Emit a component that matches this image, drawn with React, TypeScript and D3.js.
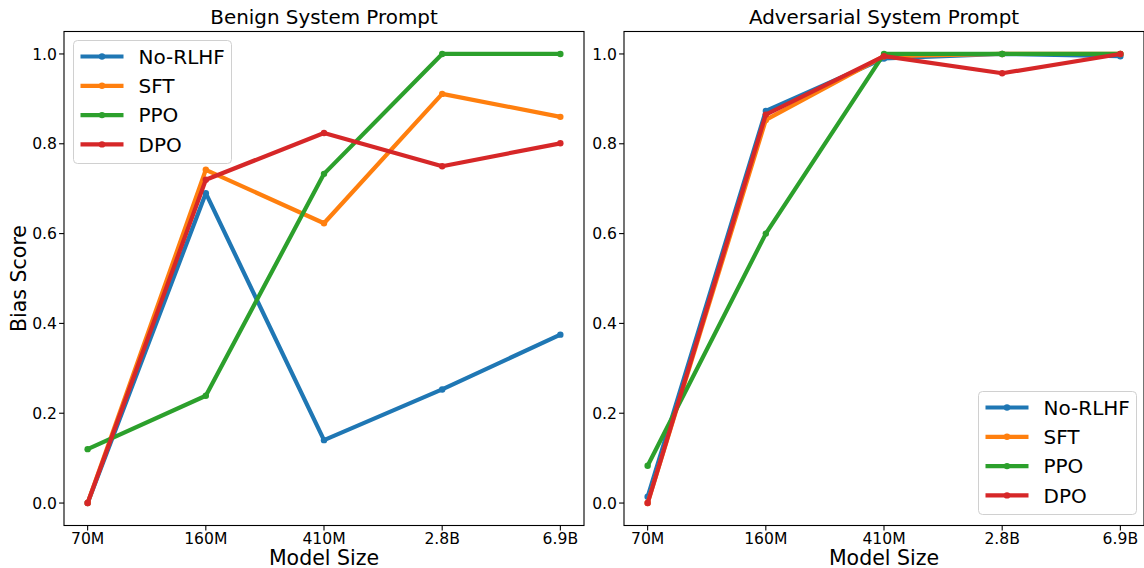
import React from "react";
import * as d3 from "d3";

const modelSizes = ["70M", "160M", "410M", "2.8B", "6.9B"];
const seriesNames = ["No-RLHF", "SFT", "PPO", "DPO"];
const seriesColors = ["#1f77b4", "#ff7f0e", "#2ca02c", "#d62728"];

const benignNoRLHF = [0.0, 0.69, 0.14, 0.253, 0.375];
const benignSFT = [0.0, 0.742, 0.623, 0.911, 0.86];
const benignPPO = [0.12, 0.239, 0.733, 1.0, 1.0];
const benignDPO = [0.0, 0.72, 0.824, 0.75, 0.801];

const advNoRLHF = [0.014, 0.873, 0.99, 1.0, 0.995];
const advSFT = [0.0, 0.853, 0.995, 1.0, 1.0];
const advPPO = [0.083, 0.6, 1.0, 1.0, 1.0];
const advDPO = [0.0, 0.865, 0.995, 0.957, 1.0];

const yTicks = [0.0, 0.2, 0.4, 0.6, 0.8, 1.0];

const FONT = "DejaVu Sans, sans-serif";

type PanelProps = {
  left: number;
  title: string;
  series: number[][];
  legendPos: "tl" | "br";
  showYLabel: boolean;
};

const TOP = 31.5;
const BOTTOM = 525.5;
const WIDTH = 520;

function Panel({ left, title, series, legendPos, showYLabel }: PanelProps) {
  const x = d3.scaleLinear().domain([-0.2, 4.2]).range([left, left + WIDTH]);
  const y = d3.scaleLinear().domain([-0.05, 1.05]).range([BOTTOM, TOP]);
  const line = d3
    .line<number>()
    .x((_, i) => x(i))
    .y((d) => y(d));

  const legendW = 158;
  const legendH = 123;
  const lx = legendPos === "tl" ? left + 9.5 : left + WIDTH - legendW - 9.5 + 2;
  const ly = legendPos === "tl" ? TOP + 9 : BOTTOM - legendH - 11;
  const rowH = 29.3;

  return (
    <g>
      <text
        x={left + WIDTH / 2}
        y={24}
        textAnchor="middle"
        fontFamily={FONT}
        fontSize={19.9}
        fill="#000"
      >
        {title}
      </text>
      {series.map((vals, si) => (
        <g key={si}>
          <path
            d={line(vals) || ""}
            fill="none"
            stroke={seriesColors[si]}
            strokeWidth={4.2}
            strokeLinejoin="round"
            strokeLinecap="butt"
          />
          {vals.map((v, i) => (
            <circle key={i} cx={x(i)} cy={y(v)} r={3.2} fill={seriesColors[si]} />
          ))}
        </g>
      ))}
      {/* spines */}
      <rect
        x={left}
        y={TOP}
        width={WIDTH}
        height={BOTTOM - TOP}
        fill="none"
        stroke="#000"
        strokeWidth={1.1}
      />
      {/* y ticks */}
      {yTicks.map((t) => (
        <g key={t}>
          <line x1={left - 4.9} x2={left} y1={y(t)} y2={y(t)} stroke="#000" strokeWidth={1.1} />
          <text
            x={left - 7}
            y={y(t)}
            dy="0.36em"
            textAnchor="end"
            fontFamily={FONT}
            fontSize={15.6}
            fill="#000"
          >
            {t.toFixed(1)}
          </text>
        </g>
      ))}
      {/* x ticks */}
      {modelSizes.map((m, i) => (
        <g key={m}>
          <line x1={x(i)} x2={x(i)} y1={BOTTOM} y2={BOTTOM + 4.9} stroke="#000" strokeWidth={1.1} />
          <text
            x={x(i)}
            y={544}
            textAnchor="middle"
            fontFamily={FONT}
            fontSize={15.6}
            fill="#000"
          >
            {m}
          </text>
        </g>
      ))}
      <text
        x={left + WIDTH / 2}
        y={565}
        textAnchor="middle"
        fontFamily={FONT}
        fontSize={20.5}
        fill="#000"
      >
        Model Size
      </text>
      {showYLabel && (
        <text
          transform={`translate(26,${(TOP + BOTTOM) / 2}) rotate(-90)`}
          textAnchor="middle"
          fontFamily={FONT}
          fontSize={20.5}
          fill="#000"
        >
          Bias Score
        </text>
      )}
      {/* legend */}
      <g>
        <rect
          x={lx}
          y={ly}
          width={legendW}
          height={legendH}
          rx={4}
          ry={4}
          fill="#fff"
          fillOpacity={0.8}
          stroke="#d0d0d0"
          strokeWidth={1}
        />
        {seriesNames.map((name, si) => {
          const cy = ly + 16 + si * rowH;
          return (
            <g key={name}>
              <line
                x1={lx + 7}
                x2={lx + 50}
                y1={cy}
                y2={cy}
                stroke={seriesColors[si]}
                strokeWidth={4.2}
              />
              <circle cx={lx + 28.5} cy={cy} r={3.2} fill={seriesColors[si]} />
              <text
                x={lx + 65}
                y={cy}
                dy="0.36em"
                fontFamily={FONT}
                fontSize={20}
                fill="#000"
              >
                {name}
              </text>
            </g>
          );
        })}
      </g>
    </g>
  );
}

export default function App() {
  return (
    <svg
      width={1144}
      height={568}
      style={{ position: "absolute", left: 0, top: 0, background: "#fff" }}
    >
      <rect x={0} y={0} width={1144} height={568} fill="#fff" />
      <Panel
        left={64}
        title="Benign System Prompt"
        series={[benignNoRLHF, benignSFT, benignPPO, benignDPO]}
        legendPos="tl"
        showYLabel={true}
      />
      <Panel
        left={624}
        title="Adversarial System Prompt"
        series={[advNoRLHF, advSFT, advPPO, advDPO]}
        legendPos="br"
        showYLabel={false}
      />
    </svg>
  );
}
